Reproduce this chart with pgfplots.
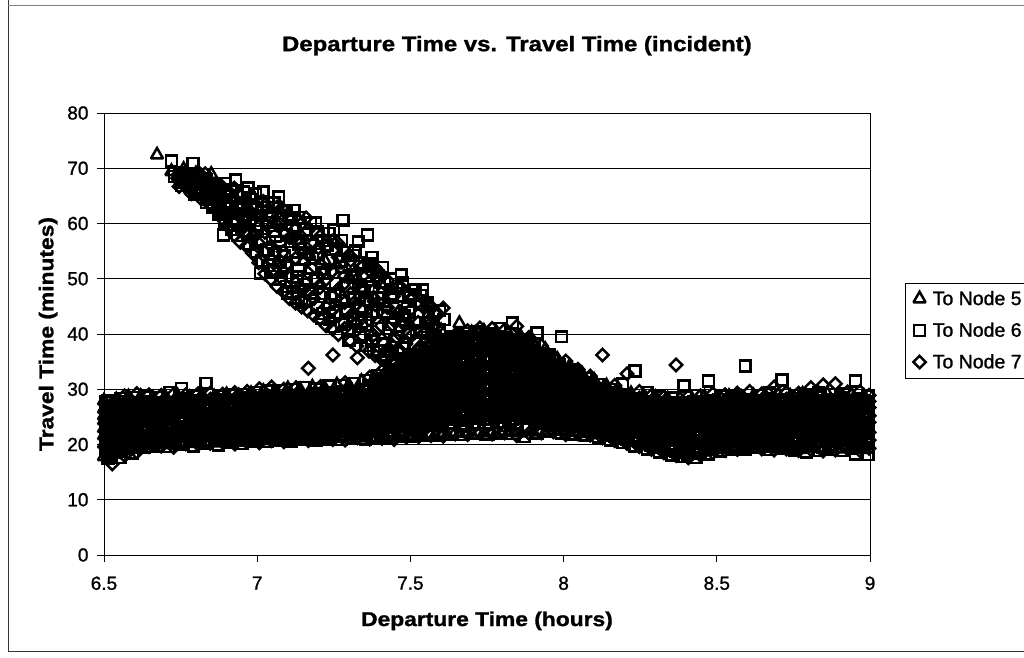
\documentclass[border=0pt]{standalone}
\usepackage{pgfplots}
\usepackage{pgfplotstable}
\pgfplotsset{compat=1.18}
\usepackage{fontspec}
\setmainfont{Liberation Sans}
\newfontfamily\wide[FakeStretch=1.14,BoldFeatures={FakeBold=1.3}]{Liberation Sans}
\newfontfamily\semi[FakeBold=1.2]{Liberation Sans}
\pgfplotstableread{
x a b c d e f g h
6.500 17.8 20.1 21.6 22.9 24.3 25.2 26.4 27.9
6.540 18.2 19.6 21.1 23.4 24.8 26.1 27.2 28.1
6.580 18.9 20.4 22.3 23.1 25.4 26.0 27.6 28.6
6.620 19.6 21.0 22.2 24.0 24.9 26.7 27.3 28.7
6.660 19.8 20.7 22.8 23.7 25.5 26.2 27.9 28.4
6.700 20.0 21.3 22.4 24.2 25.1 26.8 27.4 28.6
6.740 19.9 21.1 23.0 23.8 25.7 26.4 27.8 28.8
6.780 20.2 21.6 22.7 24.4 25.3 27.0 27.6 28.5
6.820 20.1 21.2 23.2 24.1 25.9 26.5 28.1 28.9
6.860 20.3 21.8 22.9 24.6 25.4 27.1 27.7 28.6
6.900 20.2 21.4 23.4 24.3 26.0 26.7 28.2 29.0
6.940 20.5 22.0 23.0 24.7 25.6 27.2 27.9 28.8
6.980 20.4 21.6 23.5 24.5 26.2 26.9 28.3 29.2
7.020 20.7 22.1 23.2 24.9 25.8 27.4 28.2 29.6
7.060 20.6 21.8 23.7 24.7 26.4 27.1 28.7 29.4
7.100 20.8 22.3 23.4 25.1 26.0 27.6 28.5 30.1
7.140 20.7 22.0 23.9 24.9 26.6 27.4 28.9 29.9
7.180 21.0 22.4 23.6 25.3 26.2 27.9 28.7 30.4
7.220 20.9 22.2 24.1 25.1 26.9 27.6 29.3 30.2
7.260 21.1 22.6 23.8 25.5 26.4 28.1 29.1 30.8
7.300 21.0 22.4 24.3 25.4 27.1 27.9 29.6 30.6
7.340 21.2 22.8 24.1 25.8 26.8 28.5 29.5 31.4
7.380 21.1 22.7 24.6 25.7 27.6 28.4 30.2 31.8
7.420 21.3 23.1 24.5 26.4 27.5 29.4 30.7 33.0
7.460 21.4 23.0 25.1 26.5 28.5 29.8 31.8 34.1
7.500 21.5 23.6 25.2 27.3 28.8 30.9 32.6 35.6
7.540 21.6 23.7 25.8 27.7 29.6 31.4 33.9 36.9
7.580 21.7 24.2 26.0 28.4 30.1 32.6 34.7 38.2
7.620 21.8 24.3 26.6 28.7 31.0 33.1 35.8 39.0
7.660 22.0 24.7 26.8 29.3 31.2 33.9 36.3 39.7
7.700 21.9 24.5 27.0 29.1 31.7 33.8 36.8 40.2
7.740 22.1 24.9 26.9 29.6 31.5 34.3 36.6 40.5
7.780 22.0 24.6 27.2 29.3 32.0 34.0 37.1 40.3
7.820 22.2 25.0 27.0 29.7 31.6 34.4 36.7 40.1
7.860 22.1 24.7 27.2 29.2 31.8 33.8 36.5 39.5
7.900 22.3 24.9 26.9 29.4 31.2 33.7 35.7 38.6
7.940 22.2 24.5 26.7 28.8 30.9 32.8 35.0 37.2
7.980 22.4 24.6 26.4 28.6 30.2 32.2 33.7 35.4
8.020 22.2 24.1 26.1 27.9 29.8 31.2 32.9 34.2
8.060 22.0 24.0 25.6 27.5 28.9 30.6 31.6 32.8
8.100 21.8 23.6 25.4 26.8 28.4 29.5 30.7 31.6
8.140 21.4 23.3 24.8 26.4 27.6 28.9 29.8 30.6
8.180 20.9 22.7 24.5 25.7 27.2 28.1 29.2 29.8
8.220 20.4 22.4 23.8 25.4 26.5 27.8 28.4 29.2
8.260 19.8 21.7 23.5 24.7 26.2 27.1 28.2 28.7
8.300 19.3 21.4 22.8 24.5 25.6 26.9 27.7 28.5
8.340 18.7 20.7 22.4 23.8 25.3 26.3 27.5 28.2
8.380 18.2 20.3 21.8 23.6 24.8 26.2 27.2 28.3
8.420 18.1 19.8 21.7 23.1 24.7 25.7 27.3 28.1
8.460 18.7 20.4 21.9 23.7 24.8 26.4 27.2 28.6
8.500 19.1 20.4 22.4 23.5 25.3 26.2 27.8 28.4
8.540 19.3 21.0 22.2 24.1 25.0 26.7 27.4 28.7
8.580 19.6 20.8 22.8 23.8 25.6 26.3 28.0 28.5
8.620 19.3 21.1 22.3 24.2 25.1 26.9 27.5 28.8
8.660 19.5 20.7 22.7 23.7 25.7 26.4 27.9 28.6
8.700 19.2 21.0 22.2 24.3 25.0 26.8 27.6 29.0
8.740 19.4 20.6 22.8 23.6 25.6 26.3 28.1 28.7
8.780 19.1 20.9 22.3 24.2 25.2 26.9 27.6 29.1
8.820 19.3 20.5 22.6 23.7 25.5 26.5 28.2 28.8
8.860 19.0 20.9 22.1 24.0 25.1 26.8 27.7 29.2
8.900 19.2 20.6 22.7 23.6 25.7 26.4 28.0 28.9
8.940 19.0 20.8 22.3 24.1 25.0 26.9 27.5 29.0
8.980 19.1 20.4 22.5 23.8 25.4 26.3 27.9 28.7
}\tabF
\pgfplotstableread{
x a b c d e f g h
6.513 17.5 19.2 20.9 22.4 23.7 25.0 26.6 28.0
6.553 17.6 19.8 21.4 22.7 24.2 25.6 26.8 28.3
6.593 18.4 20.0 21.3 23.2 24.4 25.8 27.1 28.5
6.633 19.5 20.5 22.4 23.5 24.6 26.4 27.7 28.6
6.673 19.7 21.2 22.0 23.9 25.1 25.9 27.5 28.5
6.713 19.6 20.9 22.7 23.6 25.4 26.5 27.3 29.4
6.753 20.0 21.5 22.3 24.1 24.9 26.7 27.7 30.2
6.793 19.7 21.0 22.9 23.9 25.6 26.3 28.0 28.7
6.833 20.2 21.7 22.6 24.4 25.2 27.0 27.6 31.1
6.873 19.9 21.3 23.1 24.0 25.8 26.6 28.1 28.8
6.913 20.3 21.9 22.8 24.6 25.5 27.2 27.8 29.0
6.953 20.2 21.5 23.3 24.2 26.0 26.8 28.4 29.1
6.993 20.6 22.2 23.1 24.8 25.7 27.5 28.1 29.4
7.033 20.5 21.7 23.6 24.6 26.3 27.0 28.6 29.7
7.073 20.8 22.4 23.3 25.0 25.9 27.7 28.3 29.8
7.113 20.6 21.9 23.8 24.8 26.5 27.3 28.9 30.0
7.153 20.9 22.5 23.5 25.2 26.1 27.8 28.6 30.3
7.193 20.8 22.1 24.0 25.0 26.8 27.5 29.2 30.1
7.233 21.0 22.7 23.7 25.4 26.3 28.0 29.0 30.6
7.273 20.9 22.3 24.2 25.3 27.0 27.8 29.5 30.7
7.313 21.1 22.9 24.0 25.7 26.7 28.4 29.4 31.1
7.353 21.0 22.6 24.5 25.6 27.4 28.3 30.0 31.6
7.393 21.2 23.0 24.4 26.2 27.3 29.1 30.4 32.5
7.433 21.3 23.1 25.0 26.3 28.2 29.5 31.4 33.6
7.473 21.4 23.5 25.1 27.1 28.6 30.5 32.2 35.0
7.513 21.5 23.8 25.6 27.5 29.4 31.2 33.5 36.3
7.553 21.6 24.0 25.9 28.2 30.0 32.4 34.4 37.6
7.593 21.7 24.2 26.4 28.5 30.7 32.9 35.4 38.7
7.633 21.9 24.6 26.7 29.1 31.1 33.7 36.1 39.5
7.673 21.8 24.4 26.9 29.0 31.5 33.6 36.6 40.1
7.713 22.0 24.8 26.8 29.5 31.4 34.2 36.4 40.4
7.753 21.9 24.5 27.1 29.2 31.9 33.9 37.0 40.0
7.793 22.1 24.9 26.9 29.6 31.5 34.3 36.9 41.0
7.833 22.0 24.6 27.1 29.1 31.7 33.7 36.4 42.0
7.873 21.4 24.8 26.8 29.3 31.1 33.6 35.8 39.0
7.913 22.1 24.4 26.6 28.7 30.8 32.7 35.2 40.2
7.953 22.3 24.5 26.3 28.5 30.1 32.1 33.9 36.2
7.993 22.1 24.0 26.0 27.8 29.7 31.1 33.0 39.5
8.033 21.9 23.9 25.5 27.4 28.8 30.5 31.7 33.5
8.073 21.7 23.5 25.3 26.7 28.3 29.4 30.8 32.0
8.113 21.3 23.2 24.7 26.3 27.5 28.8 29.9 30.9
8.153 20.8 22.6 24.4 25.6 27.1 28.0 29.3 30.0
8.193 20.3 22.3 23.7 25.3 26.4 27.7 28.5 31.0
8.233 19.7 21.6 23.4 24.6 26.1 27.0 28.3 33.3
8.273 19.2 21.3 22.7 24.4 25.5 26.8 27.8 29.4
8.313 18.6 20.6 22.3 23.7 25.2 26.2 27.6 28.6
8.353 18.1 20.2 21.7 23.5 24.7 26.1 27.3 28.4
8.393 17.8 19.7 21.6 23.0 24.6 25.6 27.4 30.6
8.433 17.6 20.3 21.8 23.6 24.7 26.3 27.3 28.9
8.473 18.3 20.3 22.3 23.4 25.2 26.1 27.7 31.5
8.513 18.8 20.9 22.1 24.0 24.9 26.6 27.5 28.7
8.553 19.2 20.7 22.7 23.7 25.5 26.2 27.9 28.6
8.593 19.2 21.0 22.2 24.1 25.0 26.8 27.6 34.2
8.633 19.4 20.6 22.6 23.6 25.6 26.3 28.0 28.9
8.673 19.1 20.9 22.1 24.2 24.9 26.7 27.7 29.3
8.713 19.3 20.5 22.7 23.5 25.5 26.2 28.1 31.7
8.753 19.0 20.8 22.2 24.1 25.1 26.8 27.5 28.9
8.793 18.6 20.4 22.5 23.6 25.4 26.4 28.1 29.0
8.833 18.9 20.8 22.0 23.9 25.0 26.7 27.8 29.3
8.873 19.1 20.5 22.6 23.5 25.6 26.3 27.9 29.1
8.913 18.9 20.7 22.2 24.0 24.9 26.8 27.6 29.2
8.953 18.3 20.3 22.4 23.7 25.3 26.2 28.0 31.5
8.993 18.2 20.6 22.1 23.9 25.1 26.6 27.7 28.8
}\tabS
\pgfplotstableread{
x a b c d e f g h
6.527 16.5 18.6 20.4 22.0 23.3 24.7 26.1 27.5
6.567 18.0 19.3 20.8 22.5 23.9 25.3 26.9 28.8
6.607 18.6 20.2 21.7 22.9 24.6 25.5 27.4 29.2
6.647 19.6 20.8 22.1 23.8 24.7 26.3 27.2 29.0
6.687 19.7 21.1 22.6 23.4 25.3 26.6 27.6 28.9
6.727 19.5 20.6 22.5 24.0 24.8 26.1 27.8 29.1
6.767 20.1 21.4 22.9 23.6 25.5 26.9 27.5 29.0
6.807 20.0 20.9 22.6 24.3 25.2 26.4 28.0 29.2
6.847 20.2 21.7 23.1 24.2 25.6 27.1 28.2 29.3
6.887 20.4 21.2 23.0 24.5 25.9 26.6 27.9 29.1
6.927 20.1 21.9 22.7 24.4 25.4 27.3 28.3 29.4
6.967 20.4 21.4 23.4 24.1 26.1 26.9 28.5 29.6
7.007 20.3 22.2 23.2 24.9 25.6 27.5 27.9 30.1
7.047 20.7 21.8 23.7 24.5 26.4 27.2 28.6 30.4
7.087 20.5 22.1 23.5 25.2 25.9 27.8 28.4 30.0
7.127 20.9 21.9 23.8 24.8 26.6 27.4 29.0 30.3
7.167 20.7 22.4 23.6 25.3 26.2 27.9 28.7 33.8
7.207 21.0 22.3 24.2 25.0 26.9 27.7 29.3 30.5
7.247 20.9 22.6 23.9 25.6 26.5 28.2 29.1 36.2
7.287 20.8 22.5 24.4 25.4 27.1 27.9 29.7 31.2
7.327 21.2 22.9 24.1 25.9 26.8 28.6 29.6 35.7
7.367 21.0 22.7 24.7 25.7 27.5 28.5 30.3 32.2
7.407 21.1 23.2 24.6 26.5 27.4 29.3 30.6 33.3
7.447 20.9 23.0 25.2 26.6 28.4 29.7 31.7 34.4
7.487 21.3 23.7 25.3 27.2 28.9 30.7 32.4 35.6
7.527 21.4 23.6 25.9 27.8 29.5 31.5 33.7 37.0
7.567 21.6 24.3 26.1 28.3 30.2 32.7 34.6 38.4
7.607 21.5 24.1 26.6 28.8 30.9 33.0 35.9 44.7
7.647 21.9 24.8 26.9 29.2 31.3 34.0 36.2 39.9
7.687 21.8 24.4 27.1 29.4 31.6 33.7 36.9 40.6
7.727 22.0 24.9 27.0 29.7 31.4 34.4 36.7 41.1
7.767 21.9 24.7 27.3 29.3 32.1 34.1 37.2 41.0
7.807 22.1 25.1 27.1 29.8 31.7 34.5 36.8 40.7
7.847 21.6 24.8 27.3 29.2 31.9 33.9 36.6 41.4
7.887 22.0 25.0 27.0 29.5 31.3 33.8 35.9 39.4
7.927 22.1 24.6 26.8 28.9 31.0 32.9 35.1 37.9
7.967 22.3 24.7 26.5 28.7 30.3 32.3 33.8 36.0
8.007 21.8 24.2 26.2 28.0 29.9 31.3 33.2 35.1
8.047 21.9 24.1 25.7 27.6 29.0 30.7 31.9 33.6
8.087 21.7 23.7 25.5 26.9 28.5 29.6 30.9 32.4
8.127 21.2 23.4 24.9 26.5 27.7 29.0 30.1 36.2
8.167 20.7 22.8 24.6 25.8 27.3 28.2 29.4 30.7
8.207 20.2 22.5 23.9 25.5 26.6 27.9 28.6 32.8
8.247 19.6 21.8 23.6 24.8 26.3 27.2 28.4 29.6
8.287 19.1 21.5 22.9 24.6 25.7 27.0 27.9 28.9
8.327 18.5 20.8 22.5 23.9 25.4 26.4 27.7 28.6
8.367 18.0 20.4 21.9 23.7 24.9 26.3 27.4 34.4
8.407 17.6 19.9 21.8 23.2 24.8 25.8 27.5 28.7
8.447 18.0 20.5 22.0 23.8 24.9 26.5 27.3 28.8
8.487 18.5 20.5 22.5 23.6 25.4 26.3 27.9 29.2
8.527 18.9 21.1 22.3 24.2 25.1 26.8 27.5 29.0
8.567 19.1 20.9 22.9 23.9 25.7 26.4 28.1 29.3
8.607 19.4 21.2 22.4 24.3 25.2 27.0 27.7 29.6
8.647 19.2 20.8 22.8 23.8 25.8 26.5 28.1 29.2
8.687 19.0 21.1 22.3 24.4 25.1 26.9 27.8 30.4
8.727 19.2 20.7 22.9 23.7 25.7 26.4 28.2 29.4
8.767 18.9 21.0 22.4 24.3 25.3 27.0 27.7 29.3
8.807 19.1 20.6 22.7 23.8 25.6 26.6 28.3 30.3
8.847 18.8 21.0 22.2 24.1 25.2 26.9 27.9 30.8
8.887 19.0 20.7 22.8 23.7 25.8 26.5 28.1 31.0
8.927 19.2 20.9 22.4 24.2 25.1 27.0 27.7 29.5
8.967 18.9 20.5 22.6 23.9 25.5 26.4 28.1 29.6
8.997 19.3 20.8 22.2 24.0 25.2 26.7 27.8 28.9
}\tabD
\pgfplotstableread{
x a b c d e f g h
6.505 19.0 20.7 23.4 21.9 26.1 24.5 27.7 22.6
6.525 18.1 21.3 19.6 24.4 23.0 25.9 27.1 26.6
6.545 20.2 18.7 22.5 25.5 21.4 24.1 26.7 27.8
6.565 19.4 22.1 20.6 23.3 27.2 24.9 25.7 21.5
6.585 21.5 19.9 24.6 22.6 26.5 20.7 23.7 27.6
6.605 20.3 23.6 21.9 25.2 27.0 19.5 22.9 24.3
6.625 22.7 20.5 25.8 21.5 24.4 27.5 23.2 26.5
6.645 21.1 24.2 22.4 26.8 20.4 25.3 27.8 23.4
6.665 23.3 20.8 26.0 22.1 25.0 27.3 21.5 24.5
6.685 21.8 25.7 23.0 20.5 27.0 24.0 26.4 22.6
6.705 24.8 22.0 20.8 26.6 23.5 27.6 25.4 21.3
6.725 23.1 26.2 21.4 24.5 20.6 27.2 22.6 25.5
6.745 20.9 23.9 27.0 22.1 25.2 21.6 26.2 24.6
6.765 25.8 21.8 24.2 27.4 23.0 26.5 20.5 22.6
6.785 22.4 26.7 20.9 25.0 23.6 27.7 21.8 24.0
6.805 24.6 21.2 26.1 23.3 27.2 20.6 25.6 22.5
6.825 21.6 25.2 23.8 27.6 22.2 26.3 20.8 24.7
6.845 26.4 22.9 20.9 24.2 27.0 21.7 25.5 23.4
6.865 23.6 27.4 21.2 25.9 22.5 24.7 20.7 26.8
6.885 21.0 24.9 27.2 22.8 26.1 23.5 25.1 21.9
6.905 25.3 22.1 24.0 27.8 20.9 26.4 23.0 21.5
6.925 22.6 26.6 20.7 24.7 27.5 23.4 25.6 21.8
6.945 24.2 21.3 25.7 23.0 26.9 20.8 27.9 22.4
6.965 27.2 23.7 21.6 25.4 22.7 26.3 24.4 21.0
6.985 21.5 25.9 23.1 27.9 24.6 22.2 26.8 20.9
7.005 23.9 21.1 26.5 24.3 27.3 22.8 25.3 28.2
7.025 26.1 22.5 28.0 21.4 24.8 23.6 27.1 25.6
7.045 21.9 24.5 27.5 23.2 26.7 28.4 22.7 25.2
7.065 25.0 21.6 23.9 28.0 26.2 22.5 27.0 24.4
7.085 22.8 26.6 21.1 24.7 28.3 23.6 25.7 27.4
7.105 27.8 23.4 25.5 21.8 26.9 24.2 22.3 28.7
7.125 24.5 21.4 27.2 25.9 22.9 28.1 23.7 26.4
7.145 22.1 25.7 23.4 28.6 21.2 26.8 24.6 27.6
7.165 26.3 23.0 28.2 21.7 25.1 27.3 22.5 24.4
7.185 23.8 27.7 21.6 26.0 24.7 22.6 28.9 25.3
7.205 21.3 24.9 28.4 23.1 27.1 25.8 22.2 26.5
7.225 25.5 22.3 26.6 29.0 23.9 21.6 27.6 24.7
7.245 23.3 28.0 21.9 25.1 27.3 24.2 29.3 26.2
7.265 27.0 24.5 22.5 28.7 25.9 21.5 26.6 23.6
7.285 22.3 26.0 29.1 24.0 21.7 27.7 25.2 28.2
7.305 25.6 23.1 27.3 21.6 28.8 24.8 26.7 22.5
7.325 28.2 24.4 22.1 26.3 29.5 25.5 23.4 27.4
7.345 23.0 27.0 25.0 29.9 21.9 28.3 26.0 24.1
7.365 26.6 22.6 29.0 24.7 27.8 23.7 30.6 25.6
7.385 24.0 28.7 26.0 22.3 30.2 25.1 27.4 31.3
7.405 27.6 23.5 31.0 25.6 28.8 22.0 26.5 29.6
7.425 25.0 29.9 23.1 27.2 32.0 26.0 30.8 28.4
7.445 28.3 24.3 31.6 26.9 22.5 29.7 33.0 25.5
7.465 23.7 30.5 27.4 33.6 25.6 28.9 22.3 31.7
7.485 29.5 25.9 32.9 24.2 27.8 34.5 30.9 26.7
7.505 26.7 31.8 23.0 29.3 35.2 25.1 33.4 28.3
7.525 30.4 27.5 34.6 25.2 32.5 22.4 28.9 36.2
7.545 24.1 33.1 28.6 36.6 26.3 30.9 34.9 31.9
7.565 31.5 26.7 35.6 29.6 23.4 37.5 33.2 28.0
7.585 27.5 34.2 24.8 32.3 37.9 30.0 25.9 35.9
7.605 32.9 29.1 36.8 23.2 27.1 34.6 38.5 30.9
7.625 25.3 37.4 31.0 28.2 35.4 33.3 23.9 38.9
7.645 35.9 27.6 33.0 38.8 24.6 30.1 36.9 29.2
7.665 29.9 39.2 25.7 34.6 31.9 27.2 37.6 23.3
7.685 37.0 32.4 28.4 24.3 35.8 39.6 30.7 26.2
7.705 26.9 30.0 38.4 33.2 23.7 35.1 28.9 37.3
7.725 33.9 24.9 36.1 29.6 39.9 27.7 31.9 38.7
7.745 28.2 37.9 26.0 32.6 35.0 23.6 30.6 39.5
7.765 35.7 31.2 39.8 24.7 28.9 37.0 33.5 26.9
7.785 24.0 33.9 29.9 38.2 36.2 27.0 31.7 39.6
7.805 37.7 28.2 25.3 34.9 32.5 39.4 30.4 23.4
7.825 30.9 36.2 33.0 26.5 39.0 24.2 28.4 37.5
7.845 26.3 38.1 29.6 35.5 23.6 32.6 37.0 31.1
7.865 34.5 24.9 31.9 27.9 36.9 38.6 29.1 25.8
7.885 28.9 35.7 23.4 33.1 26.7 30.7 37.8 36.4
7.905 36.8 30.3 26.9 24.5 34.5 28.3 32.2 37.6
7.925 25.7 33.6 29.2 36.2 23.9 31.4 27.5 35.2
7.945 31.0 27.4 34.5 25.1 35.9 29.5 33.0 23.8
7.965 28.1 32.9 24.3 30.4 26.4 35.2 23.5 33.9
7.985 33.5 25.6 29.6 23.4 31.4 27.1 34.4 30.4
8.005 26.5 32.0 23.6 28.9 33.4 24.8 30.7 27.7
8.025 30.1 24.7 32.4 27.0 23.2 29.3 25.9 33.0
8.045 23.3 28.6 25.5 31.5 27.7 32.2 24.4 30.2
8.065 29.0 26.4 31.2 23.6 28.0 25.0 30.6 22.8
8.085 24.5 30.4 22.9 27.2 29.6 31.0 26.0 28.5
8.105 28.7 23.1 26.4 30.2 24.7 27.6 22.6 29.7
8.125 25.5 29.4 22.2 27.9 23.8 30.0 26.9 24.6
8.145 22.0 27.2 29.0 24.0 25.9 21.6 28.5 26.6
8.165 26.0 23.2 28.4 21.5 27.4 24.8 29.1 22.5
8.185 23.6 27.9 21.2 25.2 28.7 22.7 26.6 24.7
8.205 27.1 21.6 24.3 28.2 22.8 26.0 20.9 25.4
8.225 21.1 25.6 28.0 23.1 27.3 24.6 22.2 26.7
8.245 24.7 22.3 20.5 26.5 28.0 23.6 27.3 21.5
8.265 20.2 26.1 23.2 27.6 21.4 25.0 24.2 22.5
8.285 23.9 21.0 27.2 19.9 25.6 22.7 26.8 24.6
8.305 26.4 23.2 20.6 24.9 27.5 21.7 19.5 25.8
8.325 19.4 25.0 22.4 27.3 23.6 20.5 26.3 24.5
8.345 22.9 20.0 26.7 18.9 24.2 27.6 21.5 25.4
8.365 25.5 18.8 23.2 21.0 27.2 19.9 26.3 24.4
8.385 20.6 26.0 24.0 18.5 22.1 27.6 25.0 23.1
8.405 23.9 19.2 27.3 21.4 25.6 18.2 22.6 26.4
8.425 18.9 24.7 20.3 26.7 23.2 27.7 21.4 25.5
8.445 25.9 21.8 18.5 23.7 19.6 27.0 24.7 22.6
8.465 20.9 27.4 23.3 19.1 25.3 22.1 26.4 24.3
8.485 24.5 19.6 21.8 26.8 23.4 28.0 20.6 25.6
8.505 22.6 26.3 20.1 24.2 28.2 21.4 25.3 23.4
8.525 27.6 21.1 25.0 19.5 23.0 26.5 24.1 22.0
8.545 20.6 24.6 27.1 22.4 25.6 19.7 23.5 28.2
8.565 25.8 22.9 20.0 27.8 24.1 21.6 26.7 23.2
8.585 21.1 26.3 23.7 19.7 25.1 28.0 22.6 24.6
8.605 24.0 20.4 28.2 22.5 26.7 21.4 25.4 23.2
8.625 27.4 23.5 21.2 25.0 19.6 26.2 22.4 24.3
8.645 22.0 25.6 27.7 20.2 23.8 21.1 26.8 24.9
8.665 25.4 19.6 23.0 27.1 21.4 24.4 28.3 22.5
8.685 20.5 24.3 26.5 22.7 28.1 25.4 21.6 23.6
8.705 23.9 27.8 21.1 25.7 19.7 22.8 26.8 24.9
8.725 26.2 22.0 24.4 20.2 27.4 23.2 25.3 21.2
8.745 21.5 25.0 28.3 23.5 19.5 26.6 22.6 24.3
8.765 24.8 20.3 26.2 22.2 27.7 23.7 21.2 25.6
8.785 19.8 23.4 27.0 25.4 21.3 28.5 24.4 22.5
8.805 26.6 21.9 24.9 19.6 23.0 25.8 27.7 20.8
8.825 22.8 25.3 20.5 27.2 24.3 21.7 26.3 28.6
8.845 25.7 19.5 23.6 21.4 28.0 24.6 22.6 26.8
8.865 20.7 26.9 24.8 22.3 25.9 19.9 27.9 23.5
8.885 24.1 21.5 28.2 25.2 20.6 26.6 23.0 22.2
8.905 27.1 23.3 20.2 25.8 22.4 24.4 21.2 28.4
8.925 21.9 25.1 26.9 19.7 24.0 27.8 23.0 20.9
8.945 25.4 20.6 22.9 27.4 24.8 21.8 26.2 23.9
8.965 19.9 24.5 27.0 21.5 26.0 23.1 28.3 22.2
8.985 23.6 26.5 20.8 25.0 22.4 27.6 24.6 21.3
}\tabB
\pgfplotstableread{
x a b c d e f
7.40 23.8 25.4 27.1 28.9 30.3 31.7
7.42 24.4 26.0 27.8 28.4 29.8 31.0
7.44 23.6 25.7 26.9 29.5 30.9 32.6
7.46 24.1 26.3 28.0 29.1 31.2 33.1
7.48 23.9 25.9 27.4 30.0 31.7 33.6
7.50 24.7 26.8 28.5 29.9 32.1 34.2
7.52 24.2 26.2 28.1 30.6 32.5 34.9
7.54 25.0 27.2 29.2 31.1 33.0 35.5
7.56 24.5 26.7 28.9 30.9 33.5 36.1
7.58 25.3 27.6 29.6 31.8 33.9 36.8
7.60 24.8 27.2 29.4 31.5 34.3 37.4
7.62 25.5 27.9 30.1 32.4 34.8 37.7
7.64 25.1 27.5 30.0 32.2 35.2 38.1
7.66 25.8 28.2 30.5 32.9 35.4 38.4
7.68 25.3 27.8 30.3 32.6 35.6 38.6
7.70 26.0 28.5 30.8 33.2 35.8 38.9
7.72 25.5 28.0 30.6 33.0 35.9 39.1
7.74 26.1 28.6 31.0 33.4 36.0 39.2
7.76 25.6 28.1 30.7 33.1 35.7 38.8
7.78 26.3 28.7 31.2 33.5 36.1 39.0
7.80 25.7 28.3 30.8 33.3 36.2 39.3
7.82 26.2 28.8 31.1 33.6 35.9 38.7
7.84 25.6 28.2 30.6 33.2 35.5 38.3
7.86 26.0 28.5 30.9 33.0 35.1 37.8
7.88 25.4 28.0 30.4 32.4 34.9 37.3
7.90 25.8 28.2 30.1 32.0 34.2 36.5
7.92 25.2 27.5 29.8 31.7 33.8 35.7
7.94 25.6 27.7 29.4 31.2 33.1 34.8
7.96 24.9 27.0 29.0 30.9 32.6 34.1
7.98 25.2 27.3 28.8 30.2 31.8 33.2
8.00 24.6 26.6 28.3 29.9 31.2 32.5
8.02 24.9 26.8 28.0 29.4 30.7 31.8
8.04 24.2 26.1 27.6 28.9 30.1 31.1
8.06 24.5 26.3 27.3 28.5 29.6 30.5
8.08 23.7 25.6 26.9 28.0 29.2 30.0
8.10 24.0 25.8 26.6 27.7 28.8 29.6
}\tabP
\pgfplotstableread{
x a b c d e f
7.41 24.6 26.6 28.3 29.4 31.0 32.4
7.43 23.5 25.2 27.4 29.9 30.4 32.0
7.45 24.9 26.5 28.6 30.3 31.6 33.6
7.47 23.7 25.4 27.7 29.4 31.4 33.9
7.49 25.1 27.0 29.0 30.5 32.7 34.6
7.51 24.0 26.0 27.9 30.2 31.9 34.0
7.53 25.5 27.6 29.6 31.6 33.5 35.9
7.55 24.3 26.4 28.6 30.6 32.8 35.2
7.57 25.7 28.0 30.2 32.2 34.3 36.6
7.59 24.6 26.9 29.1 31.2 33.5 36.0
7.61 25.9 28.3 30.6 32.9 35.1 37.9
7.63 24.9 27.4 29.7 31.9 34.2 37.2
7.65 26.2 28.7 31.1 33.4 35.9 38.7
7.67 25.1 27.7 29.9 32.2 34.7 37.6
7.69 26.4 28.9 31.3 33.7 36.3 39.2
7.71 25.3 27.8 30.2 32.5 35.1 38.0
7.73 26.5 29.0 31.5 33.9 36.5 39.4
7.75 25.4 27.9 30.4 32.7 35.3 38.3
7.77 26.6 29.2 31.6 34.0 36.6 39.5
7.79 25.5 28.0 30.5 32.8 35.4 38.4
7.81 26.5 29.1 31.5 33.9 36.4 39.2
7.83 25.4 27.9 30.3 32.7 35.2 37.9
7.85 26.3 28.9 31.3 33.5 35.8 38.5
7.87 25.2 27.7 30.0 32.3 34.5 37.0
7.89 26.0 28.4 30.7 32.8 35.0 37.5
7.91 24.9 27.2 29.5 31.5 33.6 35.9
7.93 25.8 27.9 30.0 31.8 33.6 35.4
7.95 24.7 26.8 28.6 30.4 32.0 33.9
7.97 25.5 27.5 29.4 31.0 32.6 33.9
7.99 24.4 26.3 28.0 29.6 31.0 32.3
8.01 25.0 26.9 28.6 30.1 31.4 32.6
8.03 23.9 25.8 27.3 28.8 30.0 31.2
8.05 24.7 26.4 27.8 29.1 30.3 31.3
8.07 23.6 25.4 26.7 28.0 29.0 30.0
8.09 24.3 26.0 27.2 28.3 29.4 30.3
8.11 23.4 25.1 26.3 27.4 28.5 29.4
}\tabQ
\pgfplotstableread{
x a b c d
6.755 66.9 68.6 67.4 69.2
6.795 65.2 67.9 66.3 68.4
6.835 63.8 66.6 65.0 67.9
6.855 62.9 65.3 64.4 67.0
6.875 64.2 61.6 66.3 63.3
6.895 60.4 65.5 62.7 67.3
6.915 63.9 58.9 61.8 66.2
6.935 57.8 62.6 60.2 65.0
6.955 61.5 65.7 58.6 63.8
6.975 56.3 60.4 64.6 58.2
6.995 59.7 54.9 62.8 65.4
7.015 53.2 57.1 61.5 64.0
7.035 60.2 55.3 52.4 62.9
7.055 51.3 58.6 63.7 54.5
7.075 56.8 49.9 60.9 53.0
7.095 52.3 62.4 48.6 57.9
7.115 59.6 47.7 54.8 50.4
7.135 46.5 56.3 61.1 51.6
7.155 53.6 58.9 46.0 49.0
7.175 60.1 47.4 51.9 56.1
7.195 44.8 54.4 49.7 58.5
7.215 51.1 56.9 43.7 47.3
7.235 45.4 58.2 53.3 42.6
7.255 49.2 43.9 55.4 47.0
7.275 41.8 52.1 56.9 46.1
7.295 54.8 40.4 48.6 44.0
7.315 42.7 50.3 46.3 54.2
7.335 39.4 47.5 52.9 44.9
7.355 50.6 41.6 37.9 46.2
7.375 44.1 52.7 38.7 48.5
7.395 36.9 46.5 41.0 50.6
7.415 49.3 38.2 44.0 35.9
7.435 41.7 47.2 36.8 50.0
7.455 35.1 44.9 39.5 48.2
7.475 42.6 37.5 49.3 34.7
7.495 46.7 40.2 35.8 43.9
7.515 38.3 48.0 33.9 42.1
7.535 45.4 36.1 40.6 47.0
7.555 34.3 41.9 38.1 45.6
7.575 43.5 36.0 39.7 33.5
7.595 40.8 44.2 35.1 37.8
}\tabV
\pgfplotstableread{
x a b c d
6.745 67.7 69.0 66.7 68.2
6.785 66.0 68.5 67.1 65.4
6.815 64.6 67.3 65.7 68.9
6.845 66.1 63.4 64.8 67.4
6.865 62.5 65.4 67.2 63.9
6.885 64.7 60.9 66.7 62.1
6.905 59.4 63.3 65.9 61.6
6.925 62.1 57.9 66.4 60.0
6.945 64.9 56.6 59.4 62.8
6.965 58.0 63.7 55.9 61.1
6.985 54.6 60.6 57.7 64.8
7.005 62.2 52.9 56.4 59.5
7.025 50.9 58.4 63.4 54.9
7.045 55.9 61.3 49.9 53.5
7.065 59.7 48.6 63.0 52.2
7.085 47.7 54.9 51.3 61.5
7.105 57.4 46.4 61.0 50.4
7.125 49.3 59.0 53.7 45.6
7.145 55.6 44.9 47.8 60.0
7.165 51.1 58.7 44.2 54.3
7.185 46.4 56.5 43.4 50.0
7.205 57.7 48.4 52.7 42.8
7.225 44.9 55.6 41.5 49.9
7.245 51.4 46.8 40.9 56.8
7.265 43.3 53.9 48.1 39.9
7.285 55.2 45.7 50.5 41.0
7.305 38.7 47.3 43.3 53.3
7.325 49.8 41.9 37.8 45.4
7.345 44.4 52.4 39.6 47.7
7.365 36.9 49.4 42.6 51.6
7.385 45.3 39.0 52.0 36.1
7.405 41.5 50.8 35.5 47.4
7.425 37.2 44.8 49.7 40.3
7.445 46.8 34.6 42.5 38.8
7.465 36.6 48.7 40.7 44.1
7.485 43.0 33.9 38.2 47.6
7.505 39.8 46.3 35.4 44.6
7.525 33.5 42.1 37.1 45.8
7.545 40.2 36.4 44.7 34.0
7.565 37.6 45.1 32.9 42.7
7.585 35.8 39.2 43.4 41.0
}\tabW
\pgfplotstableread{
x y
6.673 72.4
6.72 69.4
6.76 69.8
6.80 69.0
6.85 68.9
6.88 66.5
6.93 64.3
6.97 63.0
7.00 61.5
7.05 60.2
7.09 58.4
7.13 57.0
7.17 54.4
7.22 53.3
7.26 52.5
7.30 50.4
7.34 48.3
7.38 46.5
7.42 45.0
7.46 43.8
7.50 41.6
7.55 41.0
7.60 40.6
7.66 41.9
7.71 40.0
}\tabFu
\pgfplotstableread{
x y
6.72 71.3
6.79 70.9
6.73 68.5
6.75 67.6
6.78 66.8
6.80 65.6
6.82 68.2
6.84 64.4
6.86 66.5
6.88 64.0
6.89 57.9
6.91 65.0
6.93 67.9
6.94 62.6
6.96 60.8
6.97 66.4
6.98 63.2
7.00 58.6
7.01 51.0
7.02 65.7
7.03 55.2
7.04 61.4
7.05 51.6
7.06 57.7
7.07 64.8
7.08 59.8
7.09 54.1
7.10 47.4
7.11 60.7
7.12 62.4
7.13 50.3
7.14 56.6
7.145 45.8
7.16 58.9
7.17 48.0
7.18 53.7
7.19 60.1
7.21 42.9
7.22 50.9
7.23 56.1
7.24 46.6
7.25 58.8
7.25 41.3
7.27 53.2
7.28 60.6
7.29 44.5
7.30 38.9
7.31 50.7
7.32 55.0
7.33 56.7
7.34 42.2
7.35 47.8
7.36 57.9
7.365 52.3
7.375 53.9
7.38 37.1
7.39 44.0
7.40 49.4
7.41 52.1
7.42 36.2
7.43 41.0
7.44 46.7
7.45 38.8
7.47 50.7
7.48 43.3
7.50 47.2
7.52 40.5
7.54 48.0
7.56 44.1
7.58 39.7
7.61 42.6
}\tabSu
\pgfplotstableread{
x y
6.74 68.2
6.77 67.2
6.81 66.0
6.83 69.0
6.87 63.8
6.90 61.2
6.92 64.8
6.95 59.0
6.97 62.0
6.99 57.6
7.02 64.0
7.03 59.7
7.06 55.0
7.08 62.8
7.10 52.8
7.12 57.5
7.14 48.6
7.16 61.0
7.18 46.6
7.20 55.6
7.22 51.6
7.24 44.0
7.26 56.6
7.28 48.9
7.30 54.3
7.32 41.8
7.34 52.0
7.36 45.6
7.38 39.8
7.40 50.0
7.42 43.2
7.44 38.0
7.46 48.6
7.48 41.7
7.50 46.3
7.53 37.6
7.55 45.9
7.57 41.3
7.59 43.6
}\tabDu
\pgfplotsset{
 nf/.style={only marks,mark=triangle,mark size=7pt,black,mark options={solid,line width=2.5pt,miter limit=2}},
 ns/.style={only marks,mark=square,mark size=5.4pt,black,mark options={solid,line width=2.5pt}},
 nd/.style={only marks,mark=diamond,mark size=6.2pt,black,mark options={solid,line width=2.5pt,xscale=1.33}},
}
\begin{document}
\begin{tikzpicture}[x=1pt,y=1pt]
\clip (0,0) rectangle (1024,657);
\fill[white] (0,0) rectangle (1024,657);
\draw[black!80,line width=1pt] (8,657) -- (8,6) -- (1024,6);
\draw[black!50,line width=0.6pt] (8,652) -- (1024,652);
\begin{axis}[
 at={(104pt,102pt)},anchor=south west,
 scale only axis,width=766pt,height=442pt,
 xmin=6.5,xmax=9,ymin=0,ymax=80,
 xtick={6.5,7,7.5,8,8.5,9},xticklabels={6.5,7,7.5,8,8.5,9},
 ytick={0,10,20,30,40,50,60,70,80},
 ymajorgrids,
 major grid style={black,line width=0.9pt},
 axis line style={black,line width=0.9pt},
 tick style={black,line width=0.9pt},
 tick align=outside,tick pos=left,
 major tick length=7pt,
 clip=false,
 /pgf/number format/assume math mode=true,
 tick label style={font=\semi\fontsize{19}{22}\selectfont},
 xticklabel style={yshift=-11pt},
 yticklabel style={xshift=-5pt},
 title={\wide\fontsize{21}{24}\selectfont\bfseries Departure Time vs. Travel Time (incident)},
 title style={at={(axis description cs:0.539,1)},anchor=south,yshift=48pt},
 xlabel={\wide\fontsize{20}{23}\selectfont\bfseries Departure Time (hours)},
 xlabel style={at={(axis description cs:0.50,0)},anchor=north,yshift=-53pt},
 ylabel={\wide\fontsize{20}{23}\selectfont\bfseries Travel Time (minutes)},
 ylabel style={at={(axis description cs:0,0.5)},anchor=south,yshift=43pt},
 legend style={at={(axis description cs:1.0457,0.4)},anchor=south west,draw=black,line width=0.7pt,
   font=\semi\fontsize{19.5}{22}\selectfont,inner xsep=8pt,inner ysep=6pt,row sep=12pt,legend cell align=left,
   /tikz/every odd column/.style={column sep=5pt}},
]
\addplot[nf] table[x=x,y=a]{\tabF};\addlegendentry{To Node 5}
\pgfplotsinvokeforeach{b,c,d,e,f,g,h}{\addplot[nf,forget plot] table[x=x,y=#1]{\tabF};}
\addplot[nf,forget plot] table[x=x,y=y]{\tabFu};
\addplot[ns] table[x=x,y=a]{\tabS};\addlegendentry{To Node 6}
\pgfplotsinvokeforeach{b,c,d,e,f,g,h}{\addplot[ns,forget plot] table[x=x,y=#1]{\tabS};}
\pgfplotsinvokeforeach{a,b,c,d,e,f}{\addplot[ns,forget plot] table[x=x,y=#1]{\tabP};}
\pgfplotsinvokeforeach{a,b,c,d,e,f,g,h}{\addplot[ns,forget plot] table[x=x,y=#1]{\tabB};}
\pgfplotsinvokeforeach{a,b,c,d}{\addplot[ns,forget plot] table[x=x,y=#1]{\tabV};}
\addplot[ns,forget plot] table[x=x,y=y]{\tabSu};
\addplot[nd] table[x=x,y=a]{\tabD};\addlegendentry{To Node 7}
\pgfplotsinvokeforeach{b,c,d,e,f,g,h}{\addplot[nd,forget plot] table[x=x,y=#1]{\tabD};}
\pgfplotsinvokeforeach{a,b,c,d,e,f}{\addplot[nd,forget plot] table[x=x,y=#1]{\tabQ};}
\pgfplotsinvokeforeach{a,b,c,d}{\addplot[nd,forget plot] table[x=x,y=#1]{\tabW};}
\addplot[nd,forget plot] table[x=x,y=y]{\tabDu};
\end{axis}
\end{tikzpicture}
\end{document}
